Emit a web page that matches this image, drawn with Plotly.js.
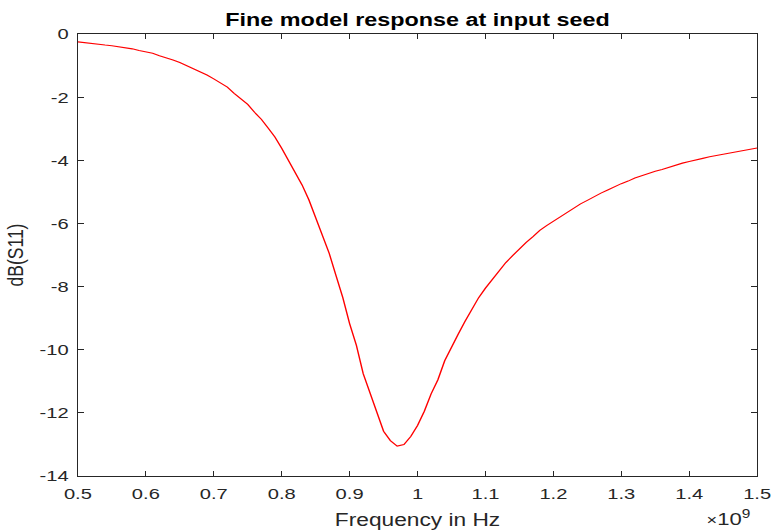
<!DOCTYPE html>
<html>
<head>
<meta charset="utf-8">
<script src="https://cdn.plot.ly/plotly-3.0.1.min.js"></script>
<style>
  html, body { margin: 0; padding: 0; background: #fff; overflow: hidden; }
  /* The figure is laid out narrower and widened on screen, giving the
     broad, horizontally stretched lettering of the exported figure. */
  #chart {
    width: 596px;
    height: 531px;
    transform: scale(1.2987, 1);
    transform-origin: 0 0;
  }
</style>
</head>
<body>
<div id="chart"></div>
<script>
// Frequency samples (in units of 1e9 Hz)
const freq = [
  0.50, 0.51, 0.52, 0.53, 0.54, 0.55, 0.56, 0.57, 0.58, 0.59,
  0.60, 0.61, 0.62, 0.63, 0.64, 0.65, 0.66, 0.67, 0.68, 0.69,
  0.70, 0.71, 0.72, 0.73, 0.74, 0.75, 0.76, 0.77, 0.78, 0.79,
  0.80, 0.81, 0.82, 0.83, 0.84, 0.85, 0.86, 0.87, 0.88, 0.89,
  0.90, 0.91, 0.92, 0.93, 0.94, 0.95, 0.96, 0.97, 0.98, 0.99,
  1.00, 1.01, 1.02, 1.03, 1.04, 1.05, 1.06, 1.07, 1.08, 1.09,
  1.10, 1.11, 1.12, 1.13, 1.14, 1.15, 1.16, 1.17, 1.18, 1.19,
  1.20, 1.21, 1.22, 1.23, 1.24, 1.25, 1.26, 1.27, 1.28, 1.29,
  1.30, 1.31, 1.32, 1.33, 1.34, 1.35, 1.36, 1.37, 1.38, 1.39,
  1.40, 1.41, 1.42, 1.43, 1.44, 1.45, 1.46, 1.47, 1.48, 1.49,
  1.50
];

// Reflection magnitude dB(S11)
const s11dB = [
  -0.25, -0.28, -0.31, -0.34, -0.35, -0.37, -0.40, -0.43, -0.47, -0.52,
  -0.57, -0.61, -0.69, -0.75, -0.82, -0.90, -1.00, -1.08, -1.18, -1.30,
  -1.42, -1.55, -1.68, -1.88, -2.06, -2.23, -2.48, -2.70, -2.98, -3.26,
  -3.62, -4.00, -4.35, -4.78, -5.25, -5.80, -6.33, -6.95, -7.65, -8.35,
  -9.17, -9.86, -10.76, -11.39, -12.02, -12.58, -12.88, -13.05, -13.00, -12.75,
  -12.40, -11.95, -11.40, -10.95, -10.35, -9.90, -9.50, -9.10, -8.72, -8.35,
  -8.05, -7.78, -7.50, -7.24, -7.02, -6.80, -6.60, -6.42, -6.22, -6.07,
  -5.93, -5.80, -5.65, -5.50, -5.38, -5.27, -5.14, -5.04, -4.94, -4.83,
  -4.74, -4.66, -4.56, -4.49, -4.41, -4.35, -4.29, -4.22, -4.16, -4.09,
  -4.04, -4.00, -3.94, -3.89, -3.84, -3.81, -3.77, -3.73, -3.68, -3.64,
  -3.61
];

const xTicks = [0.5, 0.6, 0.7, 0.8, 0.9, 1, 1.1, 1.2, 1.3, 1.4, 1.5];
const yTicks = [-14, -12, -10, -8, -6, -4, -2, 0];

const fontFamily = 'Liberation Sans, Arial, Helvetica, sans-serif';
const axisColor = '#262626';

const trace = {
  x: freq,
  y: s11dB,
  type: 'scatter',
  mode: 'lines',
  line: { color: '#ff0000', width: 1.1 },
  hoverinfo: 'skip'
};

const layout = {
  width: 596,
  height: 531,
  paper_bgcolor: '#ffffff',
  plot_bgcolor: '#ffffff',
  showlegend: false,
  margin: { l: 60, r: 13, t: 34, b: 55 },
  font: { family: fontFamily, size: 15.5, color: axisColor },
  title: {
    text: '<b>Fine model response at input seed</b>',
    font: { family: fontFamily, size: 18, color: '#000000' },
    x: 0.5, xref: 'paper', xanchor: 'center',
    y: 1, yref: 'paper', yanchor: 'bottom',
    pad: { b: 8 }
  },
  xaxis: {
    range: [0.5, 1.5],
    tickvals: xTicks,
    ticktext: xTicks.map(String),
    ticks: 'inside',
    ticklen: 5,
    tickwidth: 1,
    tickcolor: axisColor,
    showline: true,
    linecolor: axisColor,
    linewidth: 1,
    mirror: 'ticks',
    showgrid: false,
    zeroline: false,
    ticklabelstandoff: 3,
    tickfont: { family: fontFamily, size: 15.5, color: axisColor },
    title: {
      text: 'Frequency in Hz',
      font: { family: fontFamily, size: 17.5, color: axisColor },
      standoff: 13
    }
  },
  yaxis: {
    range: [-14, 0],
    tickvals: yTicks,
    ticktext: yTicks.map(String),
    ticks: 'inside',
    ticklen: 5,
    tickwidth: 1,
    tickcolor: axisColor,
    showline: true,
    linecolor: axisColor,
    linewidth: 1,
    mirror: 'ticks',
    showgrid: false,
    zeroline: false,
    ticklabelstandoff: 3,
    tickfont: { family: fontFamily, size: 15.5, color: axisColor },
    title: {
      text: 'dB(S11)',
      font: { family: fontFamily, size: 17.5, color: axisColor },
      standoff: 7
    }
  },
  annotations: [{
    text: '<span style="font-size:14px">×</span>10<sup>9</sup>',
    xref: 'paper', yref: 'paper',
    x: 1, y: 0,
    xanchor: 'right', yanchor: 'top',
    xshift: -3,
    yshift: -29,
    showarrow: false,
    font: { family: fontFamily, size: 17, color: axisColor }
  }]
};

Plotly.newPlot('chart', [trace], layout, { staticPlot: true, displayModeBar: false });
</script>
</body>
</html>
